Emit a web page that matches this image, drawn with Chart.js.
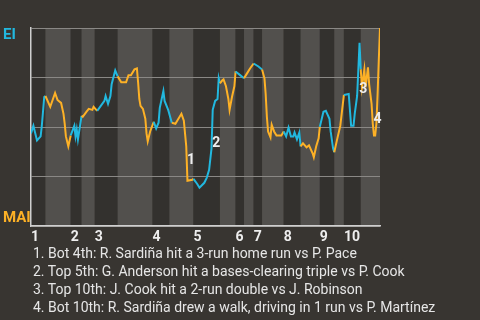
<!DOCTYPE html>
<html>
<head>
<meta charset="utf-8">
<script src="https://cdn.jsdelivr.net/npm/chart.js@4"></script>
<style>
  body { margin: 0; background: #383531; }
  #wrap { position: relative; width: 480px; height: 320px; overflow: hidden; }
  #chart { position: absolute; left: 0; top: 0; }
  #notes {
    position: absolute; left: 33px; top: 244px;
    font: 14px Roboto, sans-serif; line-height: 18px; color: #e6e6e6;
    white-space: nowrap;
  }
</style>
</head>
<body>
<div id="wrap">
  <canvas id="chart" width="480" height="320"></canvas>
  <div id="notes">
    <div>1. Bot 4th: R. Sardiña hit a 3-run home run vs P. Pace</div>
    <div>2. Top 5th: G. Anderson hit a bases-clearing triple vs P. Cook</div>
    <div>3. Top 10th: J. Cook hit a 2-run double vs J. Robinson</div>
    <div>4. Bot 10th: R. Sardiña drew a walk, driving in 1 run vs P. Martínez</div>
  </div>
</div>
<script>
'use strict';

// #pragma Data

// pitch number of the first pitch of each half inning (top 1st, bot 1st, top 2nd ...)
let halfStarts = [0, 12, 33, 42, 53, 72, 101, 115, 135, 157, 170, 177, 185, 192, 210, 224, 240, 252, 260, 274];
let lastPitch = 290;
let innings = ['1', '2', '3', '4', '5', '6', '7', '8', '9', '10'];

// win probability (%) after each pitch, EI on top
let pitches = [0, 2, 5, 8, 9, 11, 12, 16, 20, 22, 25, 27, 28, 29, 31, 33, 36, 37, 38, 39,
  41, 42, 43, 46, 48, 51, 52, 55, 58, 61, 62, 64, 66, 67, 70, 72, 75, 79, 81, 83,
  86, 88, 89, 90, 91, 93, 95, 96, 97, 99, 102, 104, 106, 107, 110, 111, 114, 117, 120, 122,
  125, 127, 129, 130, 134, 135, 138, 140, 144, 146, 148, 150, 151, 153, 155, 156, 157, 159, 160, 162,
  164, 165, 167, 169, 170, 174, 177, 179, 182, 185, 189, 192, 194, 195, 196, 197, 199, 200, 202, 204,
  208, 210, 212, 214, 216, 218, 219, 221, 223, 224, 226, 229, 231, 234, 235, 237, 239, 240, 243, 245,
  248, 249, 251, 252, 254, 257, 260, 264, 266, 268, 269, 271, 272, 273, 274, 275, 277, 278, 280, 281,
  283, 284, 285, 286, 287, 288, 289, 290];
let winProb = [46.8, 50.7, 43.3, 45.3, 50.7, 65.2, 65.7, 60.2, 67.2, 63.7, 62.2, 56.7, 51.7, 45.3, 40.3, 45.8, 50.7, 45.3, 48.8, 43.8,
  51.7, 55.7, 55.2, 57.7, 59.2, 58.7, 60.2, 58.2, 60.7, 63.2, 65.7, 61.7, 65.7, 71.6, 78.6, 75.6, 72.6, 72.6, 76.1, 76.1,
  79.1, 79.6, 72.6, 64.2, 60.7, 59.2, 54.2, 46.8, 42.8, 47.8, 52.7, 49.3, 52.2, 59.7, 68.2, 63.2, 58.7, 52.2, 51.7, 53.7,
  56.7, 53.2, 40.3, 22.9, 23.4, 23.9, 21.4, 19.4, 21.9, 24.4, 28.4, 39.3, 58.7, 63.2, 64.2, 74.6, 72.1, 73.6, 74.1, 70.6,
  64.2, 58.7, 65.2, 70.6, 78.1, 76.1, 74.6, 76.6, 79.6, 82.1, 80.6, 79.1, 74.6, 66.7, 55.2, 47.8, 44.8, 51.2, 47.8, 45.8,
  45.8, 47.8, 45.3, 49.8, 45.3, 45.3, 47.3, 43.8, 47.3, 40.3, 41.8, 39.8, 40.8, 36.8, 34.8, 40.3, 44.3, 50.2, 57.7, 58.2,
  54.2, 47.8, 39.3, 37.3, 42.8, 50.7, 66.2, 66.7, 50.7, 50.7, 56.7, 65.7, 79.1, 92.5, 79.1, 70.1, 79.1, 70.1, 80.1, 71.6,
  61.7, 51.7, 45.8, 45.8, 51.7, 66.7, 84.0, 100];

// key plays: label, pitch and win prob where the number is written
let eventLabels = ['1', '2', '3', '4'];
let eventPitch = [133, 154, 276, 288];
let eventProb = [33.8, 42.3, 69.7, 54.2];

let teamTop = 'EI';
let teamBottom = 'MAI';

// #pragma Styles

const CYAN = '#22b8df';
const ORANGE = '#fdb126';
const BAND_TOP = '#33312e';
const BAND_BOT = '#52504d';

Chart.defaults.font.family = 'Roboto';

function halfIndex(x) {
  let idx = 0;
  for (let i = 0; i < halfStarts.length; i++) {
    if (x >= halfStarts[i]) idx = i;
  }
  return idx;
}

// #pragma Plugins

let inningBands = {
  id: 'inningBands',
  beforeDraw(chart) {
    let ctx = chart.ctx;
    let area = chart.chartArea;
    let xs = chart.scales.x;
    ctx.save();
    for (let i = 0; i < halfStarts.length; i++) {
      let x0 = xs.getPixelForValue(halfStarts[i]);
      let end = i + 1 < halfStarts.length ? halfStarts[i + 1] : lastPitch;
      let x1 = xs.getPixelForValue(end);
      ctx.fillStyle = i % 2 === 0 ? BAND_TOP : BAND_BOT;
      ctx.fillRect(x0, area.top, x1 - x0, area.bottom - area.top);
    }
    ctx.restore();
  },
};

let teamAndEvents = {
  id: 'teamAndEvents',
  afterDatasetsDraw(chart) {
    let ctx = chart.ctx;
    let area = chart.chartArea;
    let xs = chart.scales.x;
    let ys = chart.scales.y;
    ctx.save();
    ctx.font = 'bold 15px Roboto';
    ctx.textAlign = 'left';
    ctx.textBaseline = 'alphabetic';
    ctx.fillStyle = CYAN;
    ctx.fillText(teamTop, 3, area.top + 11);
    ctx.fillStyle = ORANGE;
    ctx.fillText(teamBottom, 3, area.bottom - 4);

    ctx.font = 'bold 14px Roboto';
    ctx.textAlign = 'center';
    ctx.textBaseline = 'middle';
    ctx.fillStyle = '#eeeeee';
    for (let i = 0; i < eventLabels.length; i++) {
      ctx.fillText(eventLabels[i], xs.getPixelForValue(eventPitch[i]), ys.getPixelForValue(eventProb[i]) + 1);
    }
    ctx.restore();
  },
};

// #pragma Chart

let points = [];
for (let i = 0; i < pitches.length; i++) {
  points.push({ x: pitches[i], y: winProb[i] });
}

let inningStarts = [];
for (let i = 0; i < halfStarts.length; i += 2) {
  inningStarts.push(halfStarts[i]);
}

let chartConfig = {
  type: 'line',
  data: {
    datasets: [{
      data: points,
      borderWidth: 2,
      pointRadius: 0,
      tension: 0,
      segment: {
        borderColor: (c) => (halfIndex(c.p0.parsed.x) % 2 === 0 ? CYAN : ORANGE),
      },
    }],
  },
  options: {
    responsive: false,
    animation: false,
    layout: { padding: { left: 31, top: 28, right: 100, bottom: 71 } },
    plugins: { legend: { display: false }, tooltip: { enabled: false } },
    scales: {
      x: {
        type: 'linear',
        min: 0,
        max: lastPitch,
        afterBuildTicks: (scale) => {
          scale.ticks = inningStarts.map((v) => ({ value: v }));
        },
        grid: { display: false, drawTicks: false },
        border: { display: true, color: '#cfcfcf', width: 1.5 },
        ticks: {
          autoSkip: false,
          maxRotation: 0,
          align: 'start',
          padding: 3,
          color: '#eeeeee',
          font: { size: 14, weight: 'bold', lineHeight: 1.2 },
          callback: (value) => innings[inningStarts.indexOf(value)],
        },
      },
      y: {
        min: 0,
        max: 100,
        ticks: { display: false, stepSize: 25 },
        grid: { color: '#8a8885', drawTicks: false, lineWidth: 1 },
        border: { display: true, color: '#cfcfcf', width: 1.5 },
      },
    },
  },
  plugins: [inningBands, teamAndEvents],
};

let myChart = new Chart(document.getElementById('chart').getContext('2d'), chartConfig);
</script>
</body>
</html>
